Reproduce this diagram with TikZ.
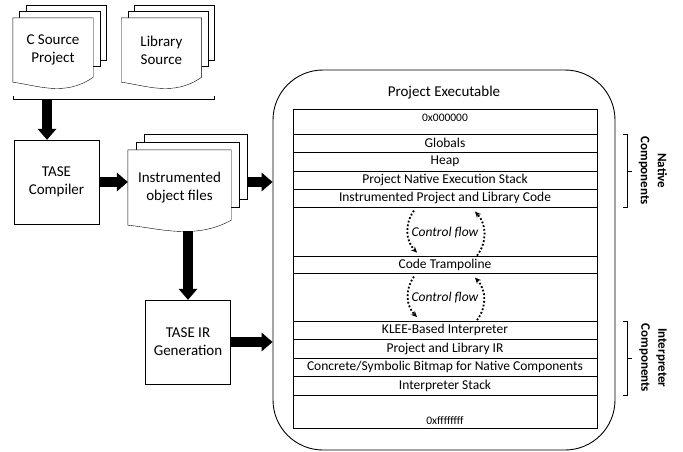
\documentclass[tikz,border=0pt]{standalone}
\usepackage{fontspec}
\setmainfont{Carlito}
\usetikzlibrary{positioning,arrows.meta,calc}
\pgfdeclarelayer{background}
\pgfsetlayers{background,main}

\tikzset{
  doctext/.style={align=center, inner sep=0pt, font=\fontsize{15}{18}\selectfont},
  procbox/.style={draw, minimum width=85pt, minimum height=84pt, align=center, font=\fontsize{15}{18}\selectfont},
  bigarrow/.style={line width=10pt, -{Triangle[length=11pt,width=19pt,line width=0pt]}},
  memrow/.style={draw, minimum width=304pt, minimum height=18.4pt, inner sep=0pt, outer sep=0pt, font=\fontsize{13.5}{15}\selectfont},
  memgap/.style={minimum width=304pt, minimum height=49pt, inner sep=0pt, outer sep=0pt},
  addrlabel/.style={inner sep=0pt, font=\fontsize{11.5}{13}\selectfont},
  flowarrow/.style={dotted, line width=1.8pt, -{Stealth[length=6pt,width=5.5pt]}},
  flowtext/.style={font=\itshape\fontsize{13.5}{15}\selectfont},
  sidelabel/.style={rotate=-90, align=center, font=\bfseries\fontsize{13}{17}\selectfont},
}

% stacked pages behind a document node: name, offset, height of back pages
\newcommand{\docpile}[3]{%
  \begin{pgfonlayer}{background}
    \foreach \k in {2,1}
      \draw[fill=white] ([shift={(\k*#2,-\k*#2)}]#1.north west) rectangle ([shift={(\k*#2,#3-\k*#2)}]#1.north east);
    \draw[fill=white] (#1.south west) -- (#1.north west) -- (#1.north east) -- ([yshift=5pt]#1.south east)
      .. controls ([yshift=-15pt]$(#1.south west)!0.65!(#1.south east)$) and ([yshift=-3pt]$(#1.south west)!0.3!(#1.south east)$) .. (#1.south west) -- cycle;
  \end{pgfonlayer}}

\begin{document}
\begin{tikzpicture}[x=1pt,y=-1pt]
  \useasboundingbox (0,0) rectangle (683,451);

  % sources
  \node[doctext, minimum width=80pt, minimum height=64pt] (csrc) at (53,50) {C Source\\Project};
  \node[doctext, minimum width=80pt, minimum height=64pt, right=28pt of csrc] (libsrc) {Library\\Source};
  \docpile{csrc}{6.5}{55}
  \docpile{libsrc}{6.5}{55}
  \draw ([shift={(0,14)}]csrc.south west) |- ([shift={(13,17)}]libsrc.south east) -- ([shift={(13,14)}]libsrc.south east);
  \coordinate (srcbrace) at ([shift={(-6,17)}]csrc.south);

  % tool chain
  \node[procbox] (comp) at (56.5,182) {TASE\\Compiler};
  \draw[bigarrow] (srcbrace) -- (srcbrace |- comp.north);
  \node[doctext, minimum width=103pt, minimum height=75pt] (instr) at (179.5,187.5) {Instrumented\\object files};
  \docpile{instr}{8}{65}
  \draw[bigarrow] (comp.east) -- (instr.west |- comp.east);
  \node[procbox] (irgen) at (188,342) {TASE IR\\Generation};
  \draw[bigarrow] ([yshift=-6pt]irgen.north |- instr.south) -- (irgen.north);

  % executable
  \node[draw, line width=0.9pt, rounded corners=50pt, minimum width=342pt, minimum height=380pt] (exec) at (444,260) {};
  \node[font=\fontsize{15}{18}\selectfont] (exectitle) at ([yshift=-23pt]exec.north) {Project Executable};
  \draw[bigarrow] ([shift={(16,-5.5)}]instr.east) -- (exec.west |- comp.east);
  \draw[bigarrow] (irgen.east) -- (exec.west |- irgen.east);

  % memory layout
  \node[memrow, minimum height=25pt, label={[addrlabel, anchor=north, yshift=-5pt]north:0x000000}] (addrtop) at (445,121.5) {};
  \node[memrow, below=0pt of addrtop] (globals) {Globals};
  \node[memrow, below=0pt of globals] (heap) {Heap};
  \node[memrow, below=0pt of heap] (nstack) {Project Native Execution Stack};
  \node[memrow, below=0pt of nstack] (code) {Instrumented Project and Library Code};
  \node[memgap, below=0pt of code] (gapA) {};
  \node[memrow, minimum height=17pt, below=0pt of gapA] (tramp) {Code Trampoline};
  \node[memgap, minimum height=47.5pt, below=0pt of tramp] (gapB) {};
  \node[memrow, below=0pt of gapB] (klee) {KLEE-Based Interpreter};
  \node[memrow, below=0pt of klee] (ir) {Project and Library IR};
  \node[memrow, below=0pt of ir] (bitmap) {Concrete/Symbolic Bitmap for Native Components};
  \node[memrow, below=0pt of bitmap] (istack) {Interpreter Stack};
  \node[memrow, minimum height=33.5pt, below=0pt of istack, label={[addrlabel, anchor=south, yshift=3pt]south:0xffffffff}] (addrbot) {};
  \draw (addrtop.north west) rectangle (addrbot.south east);

  % control flow
  \node[flowtext] (flowA) at (gapA) {Control flow};
  \draw[flowarrow] ([shift={(-31,3)}]code.south) to[bend right=40] ([shift={(-28,-4)}]tramp.north);
  \draw[flowarrow] ([shift={(32,-1)}]tramp.north) to[bend right=40] ([shift={(30,4)}]code.south);
  \node[flowtext] (flowB) at (gapB) {Control flow};
  \draw[flowarrow] ([shift={(-31,3)}]tramp.south) to[bend right=40] ([shift={(-28,-4)}]klee.north);
  \draw[flowarrow] ([shift={(32,-1)}]klee.north) to[bend right=40] ([shift={(30,4)}]tramp.south);

  % component braces
  \draw ([xshift=26pt]globals.north east) -| ([xshift=30pt]code.south east) -- ([xshift=26pt]code.south east);
  \coordinate (nativemid) at ($(globals.north east)!0.5!(code.south east)+(30,0)$);
  \draw (nativemid) -- ++(5,0);
  \node[sidelabel] (nativelbl) at ([xshift=26pt]nativemid) {Native\\Components};
  \draw ([xshift=26pt]klee.north east) -| ([xshift=30pt]istack.south east) -- ([xshift=26pt]istack.south east);
  \coordinate (interpmid) at ($(klee.north east)!0.5!(istack.south east)+(30,0)$);
  \draw (interpmid) -- ++(5,0);
  \node[sidelabel] (interplbl) at ([xshift=26pt]interpmid) {Interpreter\\Components};
\end{tikzpicture}
\end{document}
